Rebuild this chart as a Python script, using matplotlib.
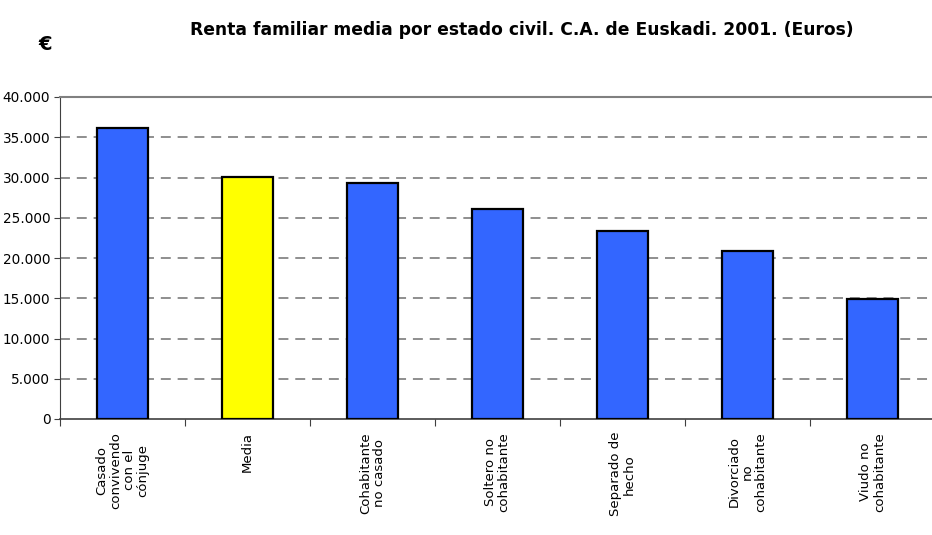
import matplotlib
matplotlib.use("Agg")
import matplotlib.pyplot as plt
import numpy as np

categories = ["Casado\nconvivendo\ncon el\ncónjuge", "Media", "Cohabitante\nno casado",
              "Soltero no\ncohabitante", "Separado de\nhecho", "Divorciado\nno\ncohabitante",
              "Viudo no\ncohabitante"]
values = [36100, 30050, 29350, 26100, 23350, 20900, 14950]
colors = ["#3366FF", "#FFFF00", "#3366FF", "#3366FF", "#3366FF", "#3366FF", "#3366FF"]
yticks = [0, 5000, 10000, 15000, 20000, 25000, 30000, 35000, 40000]
ytick_labels = ["0", "5.000", "10.000", "15.000", "20.000", "25.000", "30.000", "35.000", "40.000"]
title = "Renta familiar media por estado civil. C.A. de Euskadi. 2001. (Euros)"

plt.rcParams['font.family'] = ['DejaVu Sans']

W, H = 932, 535
fig = plt.figure(figsize=(W / 100, H / 100), dpi=100)
left, right, bottom, top = 60, 935, 419, 97
ax = fig.add_axes([left / W, 1 - bottom / H, (right - left) / W, (bottom - top) / H])

x = np.arange(len(categories))
ax.bar(x, values, width=0.41, color=colors, edgecolor="black", linewidth=1.6, zorder=3)

ax.set_xlim(-0.5, len(categories) - 0.5)
ax.set_ylim(0, 40000)
ax.set_yticks(yticks)
ax.set_yticklabels(ytick_labels, fontsize=9.8)
for yv in yticks[1:-1]:
    ax.axhline(yv, color="#707070", linestyle=(0, (6.5, 4.5)), linewidth=1.1, zorder=1)

ax.set_xticks(np.arange(len(categories) + 1) - 0.5, minor=False)
ax.set_xticklabels([])
ax.tick_params(axis='x', direction='out', length=5, color="#404040")
ax.tick_params(axis='y', direction='out', length=4, color="#404040", pad=3)

for xi, lab in zip(x, categories):
    ax.text(xi, -1600, lab, rotation=90, ha='center', va='top', multialignment='center',
            fontsize=9.5, linespacing=1.05, transform=ax.transData)

ax.spines['top'].set_color("#808080")
ax.spines['top'].set_linewidth(1.5)
ax.spines['right'].set_visible(False)
ax.spines['left'].set_color("#404040")
ax.spines['bottom'].set_color("#404040")
ax.spines['bottom'].set_linewidth(1.2)

fig.text(522 / W, 1 - 30 / H, title, ha='center', va='center', fontsize=12.3, fontweight='bold')
fig.text(45 / W, 1 - 44 / H, "€", ha='center', va='center', fontsize=14, fontweight='bold')

fig.savefig("out.png", dpi=100)
